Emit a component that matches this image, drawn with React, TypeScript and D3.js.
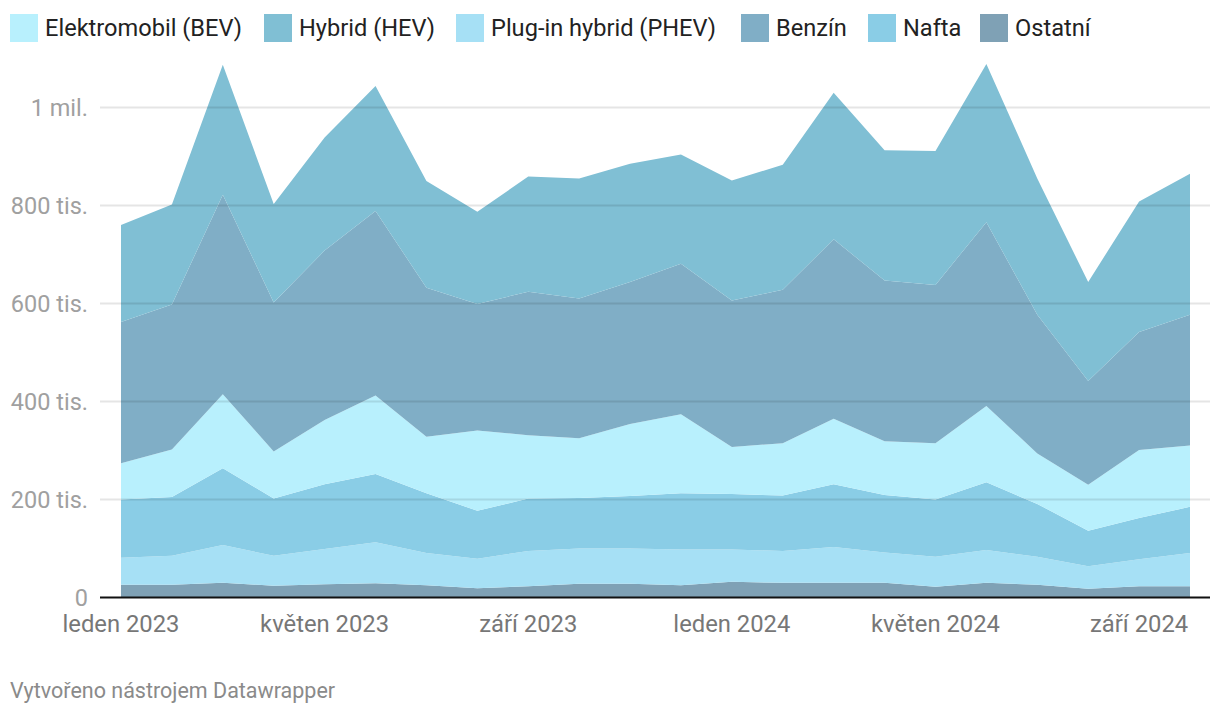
import React from "react";
import * as d3 from "d3";

// ---- DATA (thousands) ----
const months = [
  "2023-01","2023-02","2023-03","2023-04","2023-05","2023-06","2023-07","2023-08","2023-09","2023-10","2023-11","2023-12",
  "2024-01","2024-02","2024-03","2024-04","2024-05","2024-06","2024-07","2024-08","2024-09","2024-10",
];
const ostatni = [26,26,30,24,27,29,25,19,23,28,28,25,32,30,30,30,22,30,26,18,23,23];
const phev = [55,59,77,61,72,84,66,60,72,72,72,73,66,65,73,62,61,67,57,46,55,68];
const nafta = [119,120,157,117,132,139,122,98,107,103,107,115,113,113,128,117,117,138,108,72,84,94];
const bev = [74,97,151,96,131,160,115,164,129,122,147,161,96,107,134,110,115,156,103,94,139,125];
const benzin = [288,296,407,304,346,377,304,258,293,285,290,307,299,313,366,328,323,375,283,212,241,267];
const hev = [198,204,265,201,231,255,218,188,235,245,241,223,245,255,299,266,273,323,278,202,266,288];

const xTickIndex = [0, 4, 8, 12, 16, 20];
const xTickLabels = ["leden 2023","květen 2023","září 2023","leden 2024","květen 2024","září 2024"];
const yTicks = [0, 200, 400, 600, 800, 1000];
const yTickLabels = ["0","200 tis.","400 tis.","600 tis.","800 tis.","1 mil."];

const legendNames = ["Elektromobil (BEV)","Hybrid (HEV)","Plug-in hybrid (PHEV)","Benzín","Nafta","Ostatní"];
const legendKeys = ["bev","hev","phev","benzin","nafta","ostatni"];

// ---- STYLE / LAYOUT ----
const colors: Record<string, string> = {
  bev: "#b8f0fd",
  hev: "#80bfd4",
  phev: "#a6e0f5",
  benzin: "#80aec6",
  nafta: "#8acde6",
  ostatni: "#7fa1b5",
};
const stackOrder = ["ostatni","phev","nafta","bev","benzin","hev"];
const legendX = [10, 264, 456, 741, 868, 980];
const W = 1220, H = 716;
const FONT = "Roboto, 'Noto Sans', sans-serif";

export default function App() {
  const seriesMap: Record<string, number[]> = { ostatni, phev, nafta, bev, benzin, hev };
  const rows = months.map((m, i) => {
    const r: any = { month: m, i };
    stackOrder.forEach((k) => (r[k] = seriesMap[k][i]));
    return r;
  });
  const stacked = d3.stack<any>().keys(stackOrder)(rows);

  const x = d3.scaleLinear().domain([0, months.length - 1]).range([121, 1190]);
  const y = d3.scaleLinear().domain([0, 1000]).range([597.5, 107.5]);

  const area = d3
    .area<any>()
    .x((d) => x(d.data.i))
    .y0((d) => y(d[0]))
    .y1((d) => y(d[1]));

  return (
    <svg
      width={W}
      height={H}
      style={{ position: "absolute", left: 0, top: 0, fontFamily: FONT }}
    >
      <rect width={W} height={H} fill="#fff" />
      {/* legend */}
      {legendKeys.map((k, i) => (
        <g key={k} transform={`translate(${legendX[i]},0)`}>
          <rect x={0} y={14} width={28} height={28} fill={colors[k]} />
          <text x={35} y={28} dominantBaseline="central" fontSize={23.6} fill="#222">
            {legendNames[i]}
          </text>
        </g>
      ))}
      {/* areas */}
      {stacked.map((s) => (
        <path key={s.key} d={area(s) || ""} fill={colors[s.key]} />
      ))}
      {/* grid */}
      {yTicks.slice(1).map((t) => (
        <line key={t} x1={100} x2={1210} y1={y(t)} y2={y(t)} stroke="rgba(0,0,0,0.1)" strokeWidth={2} />
      ))}
      <line x1={100} x2={1210} y1={y(0)} y2={y(0)} stroke="#111" strokeWidth={2} />
      {yTicks.map((t, i) => (
        <text key={t} x={88} y={y(t)} textAnchor="end" dominantBaseline="central" fontSize={23.5} fill="#a0a0a0">
          {yTickLabels[i]}
        </text>
      ))}
      {xTickIndex.map((idx, i) => (
        <text key={idx} x={x(idx)} y={624} textAnchor="middle" dominantBaseline="central" fontSize={23.8} fill="#777">
          {xTickLabels[i]}
        </text>
      ))}
      <text x={10} y={690} dominantBaseline="central" fontSize={21.5} fill="#8a8a8a">
        Vytvořeno nástrojem Datawrapper
      </text>
    </svg>
  );
}
